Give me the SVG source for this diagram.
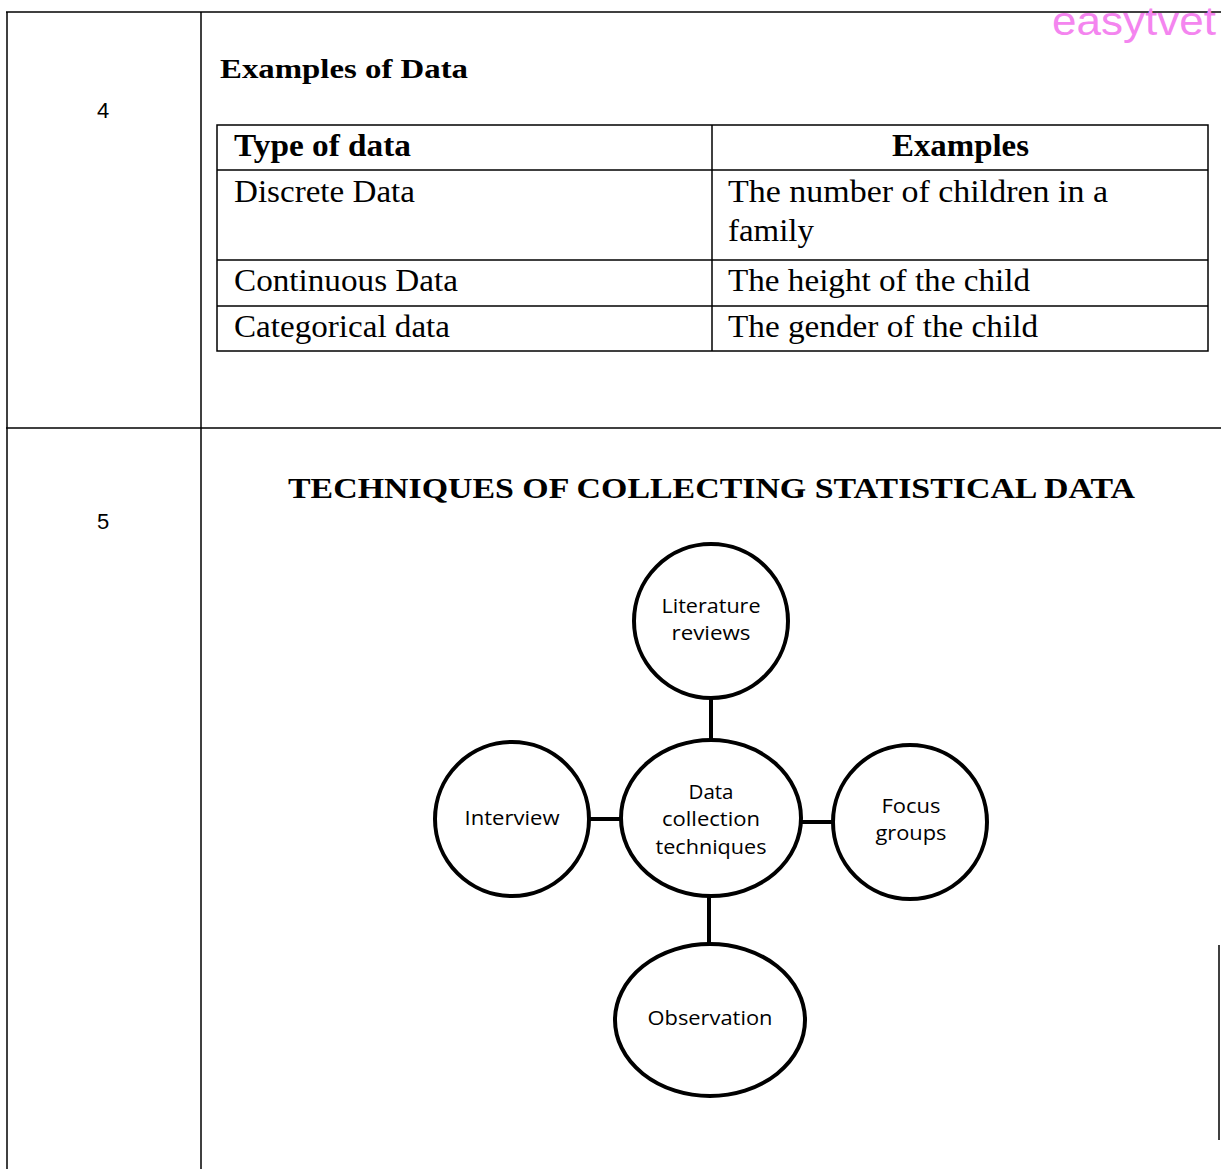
<svg xmlns="http://www.w3.org/2000/svg" width="1221" height="1169" viewBox="0 0 1221 1169">
<style>
.ln{stroke:#000;stroke-width:1.5;fill:none}
.serif{font-family:"Liberation Serif","Times New Roman",serif;fill:#000}
.b{font-weight:bold}
.num{font-family:"Liberation Sans",Arial,sans-serif;font-size:22px;fill:#000}
.node circle,.node ellipse{fill:#fff;stroke:#000;stroke-width:4}
.nt{font-family:"Open Sans","Liberation Sans",sans-serif;font-size:20px;fill:#000;text-anchor:middle}
.conn line{stroke:#000;stroke-width:4}
</style>
<rect width="1221" height="1169" fill="#fff"/>
<g id="outer-table">
<line class="ln" x1="6" y1="12" x2="1221" y2="12"/>
<line class="ln" x1="7" y1="12" x2="7" y2="1169"/>
<line class="ln" x1="201" y1="12" x2="201" y2="1169"/>
<line class="ln" x1="6" y1="428" x2="1221" y2="428"/>
<line class="ln" x1="1219" y1="945" x2="1219" y2="1140"/>
</g>
<text x="1052" y="35" font-family="'Liberation Sans',Arial,sans-serif" font-size="40" fill="#f485ef" textLength="164" lengthAdjust="spacingAndGlyphs">easytvet</text>
<text class="num" x="97" y="118">4</text>
<text class="num" x="97" y="529">5</text>
<text class="serif b" x="220" y="78" font-size="27" textLength="248" lengthAdjust="spacingAndGlyphs">Examples of Data</text>
<g id="data-table">
<rect class="ln" x="217" y="125" width="991" height="226"/>
<line class="ln" x1="217" y1="170" x2="1208" y2="170"/>
<line class="ln" x1="217" y1="260" x2="1208" y2="260"/>
<line class="ln" x1="217" y1="306" x2="1208" y2="306"/>
<line class="ln" x1="712" y1="125" x2="712" y2="351"/>
<text class="serif b" x="234" y="156" font-size="31" textLength="177" lengthAdjust="spacingAndGlyphs">Type of data</text>
<text class="serif b" x="892" y="156" font-size="31" textLength="137" lengthAdjust="spacingAndGlyphs">Examples</text>
<text class="serif" x="234" y="202" font-size="32" textLength="181" lengthAdjust="spacingAndGlyphs">Discrete Data</text>
<text class="serif" x="728" y="202" font-size="32" textLength="380" lengthAdjust="spacingAndGlyphs">The number of children  in a</text>
<text class="serif" x="728" y="241" font-size="32" textLength="86" lengthAdjust="spacingAndGlyphs">family</text>
<text class="serif" x="234" y="291" font-size="32" textLength="224" lengthAdjust="spacingAndGlyphs">Continuous Data</text>
<text class="serif" x="728" y="291" font-size="32" textLength="302" lengthAdjust="spacingAndGlyphs">The height of the child</text>
<text class="serif" x="234" y="337" font-size="32" textLength="216" lengthAdjust="spacingAndGlyphs">Categorical data</text>
<text class="serif" x="728" y="337" font-size="32" textLength="310" lengthAdjust="spacingAndGlyphs">The gender of the child</text>
</g>
<text class="serif b" x="288" y="498" font-size="30" textLength="847" lengthAdjust="spacingAndGlyphs">TECHNIQUES OF COLLECTING STATISTICAL DATA</text>
<g id="connectors" class="conn">
<line x1="711" y1="697" x2="711" y2="741"/>
<line x1="589" y1="819" x2="621" y2="819"/>
<line x1="801" y1="822" x2="833" y2="822"/>
<line x1="709" y1="895" x2="709" y2="945"/>
</g>
<g id="node-literature" class="node">
<circle cx="711" cy="621" r="77"/>
<text class="nt" x="711" y="613" textLength="99" lengthAdjust="spacingAndGlyphs">Literature</text>
<text class="nt" x="711" y="640" textLength="79" lengthAdjust="spacingAndGlyphs">reviews</text>
</g>
<g id="node-center" class="node">
<ellipse cx="711" cy="818" rx="90" ry="78"/>
<text class="nt" x="711" y="799" textLength="45" lengthAdjust="spacingAndGlyphs">Data</text>
<text class="nt" x="711" y="826" textLength="98" lengthAdjust="spacingAndGlyphs">collection</text>
<text class="nt" x="711" y="854" textLength="111" lengthAdjust="spacingAndGlyphs">techniques</text>
</g>
<g id="node-interview" class="node">
<circle cx="512" cy="819" r="77"/>
<text class="nt" x="512" y="825" textLength="95" lengthAdjust="spacingAndGlyphs">Interview</text>
</g>
<g id="node-focus" class="node">
<circle cx="910" cy="822" r="77"/>
<text class="nt" x="911" y="813" textLength="59" lengthAdjust="spacingAndGlyphs">Focus</text>
<text class="nt" x="911" y="840" textLength="71" lengthAdjust="spacingAndGlyphs">groups</text>
</g>
<g id="node-observation" class="node">
<ellipse cx="710" cy="1020" rx="95" ry="76"/>
<text class="nt" x="710" y="1025" textLength="125" lengthAdjust="spacingAndGlyphs">Observation</text>
</g>
</svg>
